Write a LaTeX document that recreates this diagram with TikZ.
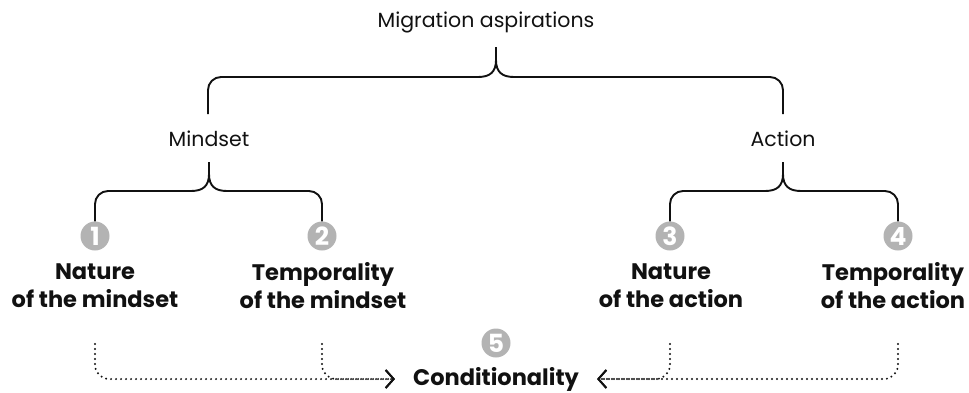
\documentclass[tikz,border=0pt]{standalone}
\usepackage{fontspec}
\setmainfont{Poppins}
\usetikzlibrary{arrows.meta}
\definecolor{ink}{HTML}{111111}
\definecolor{numgray}{HTML}{B3B3B3}
\tikzset{
  brace/.style={line width=1.9pt, draw=ink, line cap=butt},
  dotline/.style={draw=ink, line width=2.2pt, dash pattern=on 0pt off 5pt, line cap=round, rounded corners=14pt},
  tip/.style={-{Straight Barb[length=8pt,width=18pt,line width=1.9pt]}},
  headtxt/.style={font=\fontsize{20.5}{24}\selectfont, text=ink, inner sep=0pt},
  leaftxt/.style={font=\fontsize{22.5}{28}\selectfont\bfseries, text=ink, align=center, inner sep=0pt},
  numdot/.style={circle, fill=numgray, minimum size=29pt, inner sep=0pt, text=white, font=\fontsize{25}{25}\selectfont\bfseries},
}
\begin{document}
\begin{tikzpicture}[x=1pt,y=-1pt]
\useasboundingbox (0,0) rectangle (969,392);

% texts
\node[headtxt] (top) at (486,22) {Migration aspirations};
\node[headtxt] (mind) at (209,139) {Mindset};
\node[headtxt] (act) at (783,139) {Action};

% numbered circles
\node[numdot] (c1) at (95,236) {1};
\node[numdot] (c2) at (322,236) {2};
\node[numdot] (c3) at (670,236) {3};
\node[numdot] (c4) at (898,236) {4};
\node[numdot] (c5) at (496,343) {5};

% leaf labels
\node[leaftxt] (l1) at (95,286) {Nature\\of the mindset};
\node[leaftxt] (l2) at (323,286) {Temporality\\of the mindset};
\node[leaftxt] (l3) at (671,286) {Nature\\of the action};
\node[leaftxt] (l4) at (893,286) {Temporality\\of the action};
\node[leaftxt] (cond) at (496,379) {Conditionality};

% top brace
\coordinate (ts) at (496,47);
\draw[brace, rounded corners=13pt] (208,114) -- (208,77) -- (478,77);
\draw[brace] (478,77) .. controls (490,77) and (496,72) .. (496,60) -- (ts);
\draw[brace, rounded corners=13pt] (783,114) -- (783,77) -- (514,77);
\draw[brace] (514,77) .. controls (502,77) and (496,72) .. (496,60);

% mindset brace
\coordinate (ms) at (209,162);
\draw[brace, rounded corners=13pt] (c1.north) -- (95,191) -- (191,191);
\draw[brace] (191,191) .. controls (203,191) and (209,186) .. (209,174) -- (ms);
\draw[brace, rounded corners=13pt] (c2.north) -- (322,191) -- (227,191);
\draw[brace] (227,191) .. controls (215,191) and (209,186) .. (209,174);

% action brace
\coordinate (as) at (783,162);
\draw[brace, rounded corners=13pt] (c3.north) -- (670,191) -- (765,191);
\draw[brace] (765,191) .. controls (777,191) and (783,186) .. (783,174) -- (as);
\draw[brace, rounded corners=13pt] (c4.north) -- (898,191) -- (801,191);
\draw[brace] (801,191) .. controls (789,191) and (783,186) .. (783,174);

% dotted connectors
\coordinate (d1) at (95,344);
\coordinate (d2) at (322,344);
\coordinate (d3) at (670,344);
\coordinate (d4) at (898,344);
\draw[dotline, tip, shorten >=18pt] (d1) |- (cond.west);
\draw[dotline, tip, shorten >=18pt] (d2) |- (cond.west);
\draw[dotline, tip, shorten >=18pt] (d3) |- (cond.east);
\draw[dotline, tip, shorten >=18pt] (d4) |- (cond.east);
\end{tikzpicture}
\end{document}
